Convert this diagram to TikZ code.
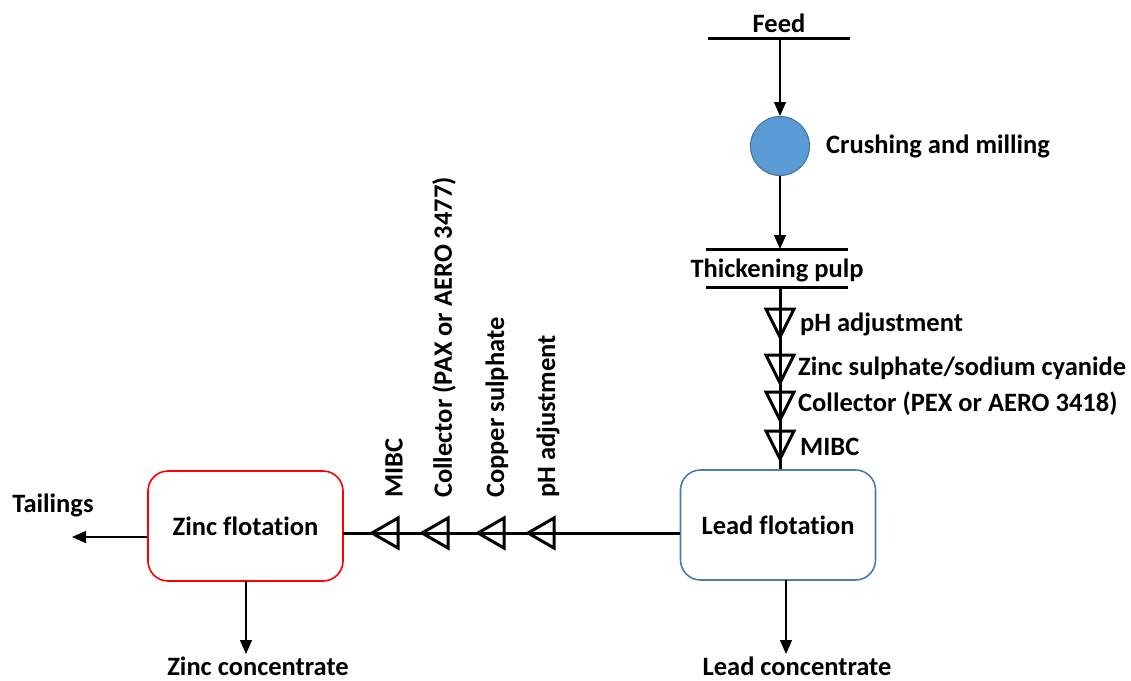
\documentclass[tikz,border=0pt]{standalone}
\usepackage{fontspec}
\setmainfont[Ligatures=NoCommon]{Carlito}
\usetikzlibrary{arrows.meta}
\definecolor{millblue}{HTML}{5B9BD5}
\definecolor{milledge}{HTML}{41719C}
\definecolor{leadedge}{HTML}{4A7AAE}
\begin{document}
\begin{tikzpicture}[x=1pt,y=-1pt,
  lbl/.style={font=\bfseries\fontsize{26.5}{30}\selectfont, inner sep=0pt},
  bar/.style={line width=3pt},
  thick line/.style={line width=3pt},
  arr/.style={line width=1.2pt, -{Triangle[length=14pt,width=12pt]}},
  unit/.style={draw, rounded corners=20pt, line width=1.6pt, minimum width=195pt, minimum height=110pt, inner sep=0pt, font=\bfseries\fontsize{26.5}{30}\selectfont},
  dtri/.pic={\draw[line width=3pt] (-14,-14) -- (14,-14) -- (0,14) -- cycle;},
  ltri/.pic={\draw[line width=3pt] (13,-15) -- (13,15) -- (-13,0) -- cycle;}
]
\useasboundingbox (0,0) rectangle (1131,680);
% top
\node[lbl] (feed) at (779,23) {Feed};
\draw[bar] (708,38) -- (850,38);
\coordinate (feedbar) at (780,38);
\node[circle, fill=millblue, draw=milledge, line width=1pt, minimum size=59pt, inner sep=0pt] (mill) at (780,146) {};
\node[lbl, anchor=west] (milltxt) at (826,146) {Crushing and milling};
\draw[arr] (feedbar) -- (mill.north);
\draw[bar] (706,249) -- (848,249);
\coordinate (thtop) at (780,249);
\node[lbl] (thick) at (777,270) {Thickening pulp};
\draw[bar] (706,287) -- (848,287);
\coordinate (thbot) at (780,287);
\draw[arr] (mill.south) -- (thtop);
% lead flotation
\node[unit, draw=leadedge] (lead) at (778,525) {Lead flotation};
\draw[thick line] (thbot) -- (lead.north -| thbot);
\pic at (780,323) {dtri};
\pic at (780,369) {dtri};
\pic at (780,406) {dtri};
\pic at (780,445) {dtri};
\node[lbl, anchor=west] (r1) at (800,324) {pH adjustment};
\node[lbl, anchor=west] (r2) at (798,368) {Zinc sulphate/sodium cyanide};
\node[lbl, anchor=west] (r3) at (798,404) {Collector (PEX or AERO 3418)};
\node[lbl, anchor=west] (r4) at (800,447) {MIBC};
% zinc flotation
\node[unit, draw=red] (zinc) at (245.5,526) {Zinc flotation};
\coordinate (zr) at (343,533);
\coordinate (ll) at (680,533);
\draw[thick line] (ll) -- (zr);
\pic at (385,533) {ltri};
\pic at (435,533) {ltri};
\pic at (491,533) {ltri};
\pic at (541,533) {ltri};
\node[lbl, rotate=90, anchor=west] (h1) at (394,498) {MIBC};
\node[lbl, rotate=90, anchor=west] (h2) at (444,498) {Collector (PAX or AERO 3477)};
\node[lbl, rotate=90, anchor=west] (h3) at (497,498) {Copper sulphate};
\node[lbl, rotate=90, anchor=west] (h4) at (548,498) {pH adjustment};
% outputs
\node[lbl] (tail) at (53,505) {Tailings};
\coordinate (tailend) at (72,537);
\draw[arr] (zinc.west |- tailend) -- (tailend);
\node[lbl] (zc) at (258,666) {Zinc concentrate};
\draw[arr] (246,581) -- (246,654);
\node[lbl] (lc) at (797,666) {Lead concentrate};
\draw[arr] (786,580) -- (786,654);
\end{tikzpicture}
\end{document}
